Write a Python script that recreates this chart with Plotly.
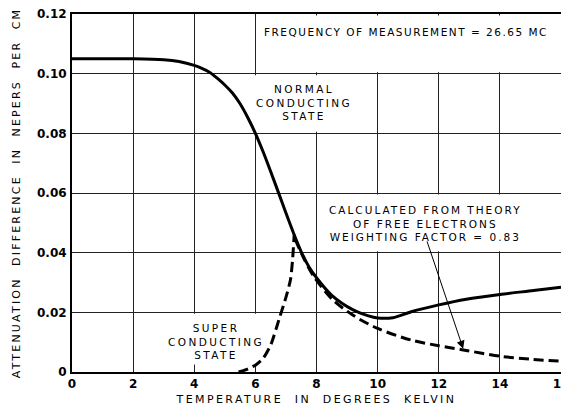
import plotly.graph_objects as go

# ---- data ----
normal_x = [0, 1, 2, 3, 3.5, 4.0, 4.25, 4.5, 4.75, 5.0, 5.25, 5.5, 5.75, 6.0, 6.25, 6.5, 6.75, 7.0, 7.25, 7.5, 7.75, 8.0, 8.5, 9.2, 9.7, 10.0, 10.5, 11.1, 12.0, 12.9, 14.0, 15.1, 16.0]
normal_y = [0.105, 0.105, 0.105, 0.1047, 0.1041, 0.1028, 0.1018, 0.1005, 0.0985, 0.0962, 0.0935, 0.0899, 0.0853, 0.080, 0.0739, 0.0672, 0.0603, 0.0533, 0.0465, 0.0403, 0.0353, 0.0316, 0.0257, 0.0208, 0.0188, 0.0181, 0.0182, 0.0202, 0.0225, 0.0244, 0.026, 0.0273, 0.0284]

super_x = [5.45, 5.7, 6.0, 6.25, 6.5, 6.8, 7.0, 7.15, 7.22, 7.27]
super_y = [0.0, 0.0008, 0.0023, 0.0045, 0.009, 0.0185, 0.025, 0.031, 0.038, 0.046]

theory_x = [7.3, 7.6, 7.9, 8.5, 9.2, 10.0, 11.1, 12.0, 12.8, 14.0, 15.0, 16.0]
theory_y = [0.0445, 0.0378, 0.0322, 0.0245, 0.019, 0.0146, 0.0107, 0.0088, 0.0074, 0.0053, 0.0043, 0.0036]

x_ticks = [0, 2, 4, 6, 8, 10, 12, 14, 16]
x_ticktext = ["0", "2", "4", "6", "8", "10", "12", "14", "16"]
y_ticks = [0, 0.02, 0.04, 0.06, 0.08, 0.10, 0.12]
y_ticktext = ["0", "0.02", "0.04", "0.06", "0.08", "0.10", "0.12"]

FONT = "DejaVu Sans"


def spaced(text, ls):
    return "<br>".join(
        f'<span style="letter-spacing:{ls}px">{line}</span>' for line in text.split("\n")
    )


fig = go.Figure()
fig.add_trace(go.Scatter(x=normal_x, y=normal_y, mode="lines", line=dict(color="black", width=3, shape="spline", smoothing=0.8), name="Normal conducting state", showlegend=False))
fig.add_trace(go.Scatter(x=super_x, y=super_y, mode="lines", line=dict(color="black", width=3, dash="10px,5px", shape="spline", smoothing=0.6), name="Super conducting state", showlegend=False))
fig.add_trace(go.Scatter(x=theory_x, y=theory_y, mode="lines", line=dict(color="black", width=3, dash="10px,5px", shape="spline", smoothing=0.8), name="Calculated from theory", showlegend=False))

# white label boxes that interrupt the grid
boxes = [
    (6.05, 16.0, 0.1005, 0.1195),
    (5.8, 9.95, 0.0805, 0.0995),
    (8.05, 16.0, 0.0405, 0.0595),
    (3.5, 6.3, 0.0025, 0.0195),
]
for x0, x1, y0, y1 in boxes:
    fig.add_shape(type="rect", xref="x", yref="y", x0=x0, x1=x1, y0=y0, y1=y1,
                  fillcolor="white", line=dict(width=0), layer="between")

tf = dict(family=FONT, size=10.5, color="black")
fig.add_annotation(x=10.93, y=0.1141, xref="x", yref="y", showarrow=False,
                   text=spaced("FREQUENCY OF MEASUREMENT = 26.65 MC", 1.5), font=tf)
fig.add_annotation(x=7.58, y=0.0905, xref="x", yref="y", showarrow=False,
                   text=spaced("NORMAL\nCONDUCTING\nSTATE", 2.4), font=tf)
fig.add_annotation(x=11.55, y=0.0499, xref="x", yref="y", showarrow=False,
                   text=spaced("CALCULATED FROM THEORY\nOF FREE ELECTRONS\nWEIGHTING FACTOR = 0.83", 2.0), font=tf)
fig.add_annotation(x=4.7, y=0.0103, xref="x", yref="y", showarrow=False,
                   text=spaced("SUPER\nCONDUCTING\nSTATE", 2.4), font=tf)
fig.add_annotation(x=12.8, y=0.0078, xref="x", yref="y", ax=11.6, ay=0.0443,
                   axref="x", ayref="y", showarrow=True, arrowhead=2, arrowsize=1.6,
                   arrowwidth=1, arrowcolor="black", text="")

fig.update_layout(
    width=561, height=406,
    margin=dict(l=72, r=0, t=14, b=34, autoexpand=False),
    paper_bgcolor="white", plot_bgcolor="white",
    font=dict(family=FONT, color="black"),
    showlegend=False,
)
fig.update_xaxes(
    range=[0, 16], tickvals=x_ticks, ticktext=x_ticktext, automargin=False,
    tickfont=dict(family=FONT, size=12, color="black", weight="bold"),
    ticklabeloverflow="allow",
    showgrid=True, gridcolor="#222", gridwidth=1,
    showline=True, linecolor="black", linewidth=2, mirror=True,
    ticks="", zeroline=False,
    title=dict(text=spaced("TEMPERATURE  IN  DEGREES  KELVIN", 2.4),
               font=dict(family=FONT, size=11, color="black"), standoff=10),
)
fig.update_yaxes(
    range=[0, 0.12], tickvals=y_ticks, ticktext=y_ticktext, automargin=False,
    tickfont=dict(family=FONT, size=12, color="black", weight="bold"),
    showgrid=True, gridcolor="#222", gridwidth=1,
    showline=True, linecolor="black", linewidth=2, mirror=True,
    ticks="", zeroline=False, ticklabelstandoff=1,
    title=dict(text=spaced("ATTENUATION  DIFFERENCE  IN  NEPERS  PER  CM", 2.2),
               font=dict(family=FONT, size=11, color="black"), standoff=14),
)

fig.write_html("out.html", config={"displayModeBar": False},
               post_script="document.body.style.margin='0px';document.body.style.overflow='hidden';")
